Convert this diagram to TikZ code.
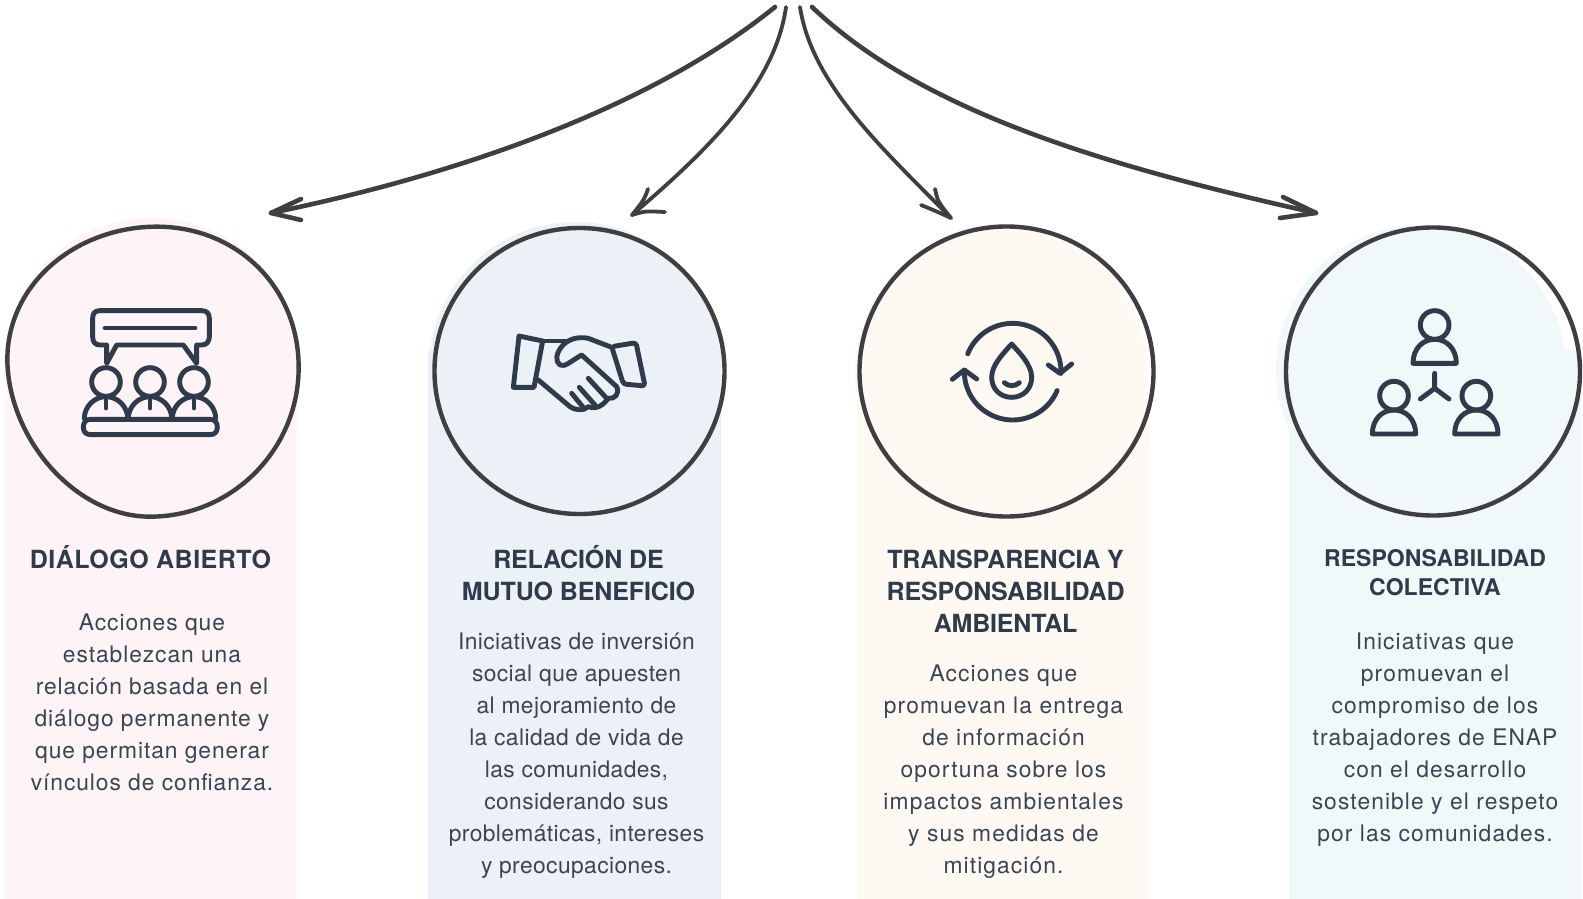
\documentclass[tikz,border=0pt]{standalone}
\usepackage{fontspec}
\newfontfamily\bodya[LetterSpace=4.1]{TeX Gyre Heros}
\newfontfamily\bodyb[LetterSpace=1.8]{TeX Gyre Heros}
\newfontfamily\bodyc[LetterSpace=4.8]{TeX Gyre Heros}
\newfontfamily\bodyd[LetterSpace=4.8]{TeX Gyre Heros}
\newfontfamily\titlea[LetterSpace=2.0]{TeX Gyre Heros}
\newfontfamily\titleb[LetterSpace=-0.5]{TeX Gyre Heros}
\newfontfamily\titlec[LetterSpace=-0.7]{TeX Gyre Heros}
\newfontfamily\titled[LetterSpace=0.2]{TeX Gyre Heros}
\definecolor{ink}{HTML}{2F3B4A}
\definecolor{txt}{HTML}{3A4553}
\definecolor{penc}{HTML}{3F3F41}
\definecolor{fpink}{HTML}{FEF3F7}
\definecolor{fblue}{HTML}{ECF1F8}
\definecolor{fcream}{HTML}{FEF9F3}
\definecolor{fmint}{HTML}{F1F8F9}
\newcommand{\iconperson}[2]{%
  \draw[iconline] (#1,#2) circle [radius=43];
  \draw[iconline] ({#1-65},{#2+115}) .. controls ({#1-65},{#2+70}) and ({#1-35},{#2+43}) .. (#1,{#2+43})
     .. controls ({#1+35},{#2+43}) and ({#1+65},{#2+70}) .. ({#1+65},{#2+115}) -- cycle;}
\newcommand{\iconsitter}[1]{%
  \draw[iconline] (#1,516) circle [radius=43];
  \draw[iconline] ({#1-65},625) .. controls ({#1-65},590) and ({#1-35},560) .. (#1,560)
     .. controls ({#1+35},560) and ({#1+65},590) .. ({#1+65},625);
  \draw[iconline] (#1,560) -- (#1,594);}
\tikzset{
  x=1pt,y=-1pt,
  iconline/.style={draw=ink,line width=4.9pt,line cap=round,line join=round},
  iconscope/.style={x=0.33333pt,y=-0.33333pt},
  ringline/.style={draw=penc,line width=4.4pt},
  sweep/.style={draw=penc,line width=#1,line cap=round,line join=round},
  headtitle/.style={anchor=north,inner sep=0pt,align=center,text=ink},
  bodytext/.style={anchor=north,inner sep=0pt,align=center,text=txt},
}
\begin{document}
\begin{tikzpicture}
\useasboundingbox (0,0) rectangle (1583,899);
% panels
\fill[fpink] (4,400) rectangle (297,899);
\fill[fpink] (152,366) circle [radius=148];
\fill[fblue] (428,350) rectangle (721,899);
\fill[fblue] (575,368) circle [radius=146];
\fill[fcream] (857,400) rectangle (1150,899);
\fill[fcream] (1001,372) circle [radius=146];
\fill[fmint] (1289,350) rectangle (1581,899);
\fill[fmint] (1421,370) circle [radius=145];
% rings
\begin{scope}[shift={(0,210)},iconscope]
\draw[ringline] (470,50) .. controls (712,50) and (896,232) .. (896,472)
  .. controls (896,720) and (695,920) .. (450,920)
  .. controls (225,920) and (25,685) .. (22,450)
  .. controls (22,215) and (235,50) .. (470,50) -- cycle;
\end{scope}
\draw[ringline] (579.5,371) circle [x radius=145,y radius=143];
\draw[ringline] (1006.5,371.5) circle [x radius=147,y radius=145];
\draw[ringline] (1433,371.5) circle [x radius=147,y radius=144];
% sweeping arrows
\coordinate (o1) at (775,7);\coordinate (t1) at (271,213);
\coordinate (o2) at (786,7);\coordinate (t2) at (632,215);
\coordinate (o3) at (800,7);\coordinate (t3) at (951,218);
\coordinate (o4) at (812,7);\coordinate (t4) at (1316,213);
\draw[sweep=4.6pt] (o1) .. controls (660,100) and (480,170) .. (t1);
\draw[sweep=4.6pt] (301,199) -- (t1) -- (301,220);
\draw[sweep=3.8pt] (o2) .. controls (775,85) and (708,150) .. (t2);
\draw[sweep=3.8pt] (648,189) .. controls (644,200) .. (t2) .. controls (645,211) .. (665,212);
\draw[sweep=3.8pt] (o3) .. controls (812,85) and (884,150) .. (t3);
\draw[sweep=3.8pt] (935,189) .. controls (938,202) .. (t3) .. controls (938,212) .. (921,205);
\draw[sweep=4.6pt] (o4) .. controls (920,110) and (1100,165) .. (t4);
\draw[sweep=4.6pt] (1283,197) -- (t4) -- (1280,218);
% icon 1
\begin{scope}[shift={(0,210)},iconscope]
\draw[iconline] (320,405) -- (320,460) -- (350,405) -- (550,405) -- (590,460) -- (590,405) -- (605,405)
  .. controls (620,405) and (628,395) .. (628,380) -- (628,325)
  .. controls (628,310) and (620,302) .. (605,302) -- (300,302)
  .. controls (285,302) and (278,310) .. (278,325) -- (278,380)
  .. controls (278,395) and (285,405) .. (300,405) -- cycle;
\draw[iconline] (315,354) -- (585,354);
\iconsitter{318}\iconsitter{450}\iconsitter{582}
\draw[iconline] (272,628) -- (630,628) .. controls (645,628) and (652,638) .. (652,651)
  .. controls (652,665) and (645,674) .. (630,674) -- (272,674)
  .. controls (257,674) and (250,665) .. (250,651) .. controls (250,638) and (257,628) .. (272,628) -- cycle;
\end{scope}
% icon 2
\begin{scope}[shift={(420,210)},iconscope]
\draw[iconline] (297,378) -- (368,393) -- (342,532) -- (280,532) -- cycle;
\draw[iconline,rounded corners=3pt] (575,410) -- (648,398) -- (675,528) -- (610,522) -- cycle;
\draw[iconline] (368,393) -- (445,393);
\draw[iconline] (570,410) -- (505,385) .. controls (470,378) and (440,390) .. (425,410)
  .. controls (408,430) and (405,455) .. (420,465) .. controls (435,472) and (450,455) .. (485,435) -- (590,530)
  .. controls (600,550) and (585,568) .. (565,565) .. controls (550,585) and (530,600) .. (505,590)
  .. controls (490,605) and (465,600) .. (450,590) -- (355,510);
\draw[iconline] (505,505) -- (560,565);
\draw[iconline] (478,532) -- (525,585);
\draw[iconline] (455,550) -- (488,590);
\end{scope}
% icon 3
\begin{scope}[shift={(850,210)},iconscope]
\draw[iconline] plot[smooth,samples=40,domain=201.7:362] ({488+145*cos(\x)},{485+145*sin(\x)});
\draw[iconline] (595,465) -- (630,490) -- (665,462);
\draw[iconline] plot[smooth,samples=40,domain=23:182] ({488+145*cos(\x)},{485+145*sin(\x)});
\draw[iconline] (307,508) -- (343,480) -- (380,507);
\draw[iconline] (485,402) .. controls (510,430) and (545,465) .. (545,502)
  .. controls (545,538) and (518,562) .. (485,562) .. controls (452,562) and (425,538) .. (425,502)
  .. controls (425,465) and (460,430) .. (485,402) -- cycle;
\draw[iconline] (463,518) .. controls (475,530) and (495,530) .. (508,518);
\end{scope}
% icon 4
\begin{scope}[shift={(1273,210)},iconscope]
\iconperson{485}{345}
\iconperson{363}{557}
\iconperson{610}{557}
\draw[iconline] (485,490) -- (485,535) -- (442,567);
\draw[iconline] (485,535) -- (528,567);
\end{scope}
% text
\node[headtitle,font=\titlea\bfseries\fontsize{25}{32}\selectfont] (t1a) at (150.5,545) {DIÁLOGO ABIERTO};
\node[bodytext,font=\bodya\fontsize{22.8}{32}\selectfont] (b1) at (152,614) {Acciones que\\establezcan una\\relación basada en el\\diálogo permanente y\\que permitan generar\\vínculos de confianza.};
\node[headtitle,font=\titleb\bfseries\fontsize{25}{32}\selectfont] (t2a) at (578.5,545) {RELACIÓN DE\\MUTUO BENEFICIO};
\node[bodytext,font=\bodyb\fontsize{22.8}{32}\selectfont] (b2) at (576.5,633) {Iniciativas de inversión\\social que apuesten\\al mejoramiento de\\la calidad de vida de\\las comunidades,\\considerando sus\\problemáticas, intereses\\y preocupaciones.};
\node[headtitle,font=\titlec\bfseries\fontsize{25}{32}\selectfont] (t3a) at (1005.6,549.5) {TRANSPARENCIA Y\\RESPONSABILIDAD\\AMBIENTAL};
\node[bodytext,font=\bodyc\fontsize{22.8}{32}\selectfont] (b3) at (1003.5,665) {Acciones que\\promuevan la entrega\\de información\\oportuna sobre los\\impactos ambientales\\y sus medidas de\\mitigación.};
\node[headtitle,font=\titled\bfseries\fontsize{23}{29}\selectfont] (t4a) at (1435,549) {RESPONSABILIDAD\\COLECTIVA};
\node[bodytext,font=\bodyd\fontsize{22.8}{32}\selectfont] (b4) at (1435,633) {Iniciativas que\\promuevan el\\compromiso de los\\trabajadores de ENAP\\con el desarrollo\\sostenible y el respeto\\por las comunidades.};
\end{tikzpicture}
\end{document}
